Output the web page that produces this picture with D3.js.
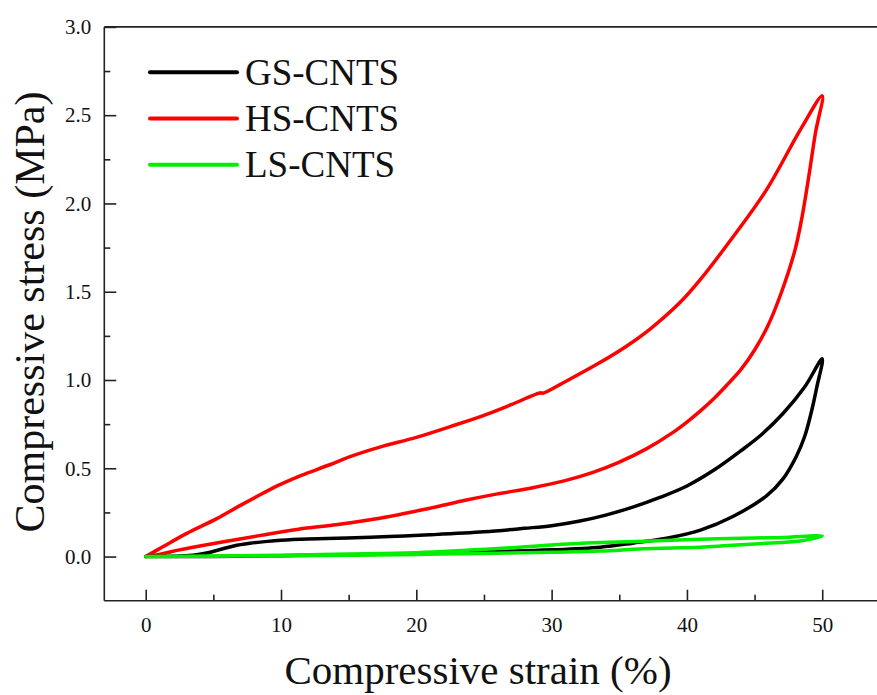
<!DOCTYPE html>
<html>
<head>
<meta charset="utf-8">
<script src="https://cdn.jsdelivr.net/npm/d3@7"></script>
<style>
  html, body { margin: 0; padding: 0; background: #fff; }
  svg { display: block; }
  svg text { font-family: "Liberation Serif", "Times New Roman", serif !important; }
</style>
</head>
<body>
<svg id="chart" width="877" height="695"></svg>
<script>
// ---------- data (strain %, stress MPa) ----------
const seriesNames = ["GS-CNTS", "HS-CNTS", "LS-CNTS"];
const seriesColors = ["#000000", "#ff0000", "#00ee00"];

// HS-CNTS loading + unloading loop
const hsStrain = [0, 1.3, 3, 5.25, 7, 8.7, 10, 11.5, 13.6, 15.1, 17.3, 20, 22.5, 25, 27, 29.2, 29.35, 31, 33.6, 35.5, 37.3, 39.5, 41, 43.4, 45.9, 48.4, 50,
                  49.5, 49, 48.5, 48, 47, 46, 45, 44, 43, 42, 41, 40, 39, 37, 35, 33, 31, 28.6, 26, 23.7, 21, 17.3, 14, 11.3, 8.5, 6.2, 4, 2.5, 1, 0];
const hsStress = [0, 0.057, 0.13, 0.215, 0.29, 0.36, 0.41, 0.46, 0.52, 0.566, 0.62, 0.675, 0.736, 0.80, 0.86, 0.928, 0.925, 0.99, 1.1, 1.19, 1.29, 1.44, 1.57, 1.81, 2.08, 2.42, 2.61,
                  2.40, 2.15, 1.92, 1.74, 1.50, 1.31, 1.17, 1.06, 0.975, 0.895, 0.825, 0.762, 0.705, 0.61, 0.535, 0.475, 0.43, 0.39, 0.355, 0.32, 0.274, 0.217, 0.18, 0.155, 0.12, 0.09, 0.06, 0.038, 0.012, 0];

// GS-CNTS loop
const gsStrain = [0, 2, 3.5, 4.5, 5.5, 6.5, 7.7, 9, 10, 12, 14.9, 18, 21, 25, 28, 30, 32, 34, 36, 38, 40, 42, 44, 45.5, 47.1, 48.7, 50,
                  49.6, 49.2, 48.7, 48.1, 47.1, 45.9, 43.4, 41, 38.5, 36, 33.6, 30, 25, 20, 15, 10, 5, 0];
const gsStress = [0, 0.002, 0.008, 0.02, 0.04, 0.06, 0.075, 0.086, 0.092, 0.099, 0.105, 0.113, 0.123, 0.14, 0.16, 0.175, 0.2, 0.235, 0.28, 0.335, 0.40, 0.49, 0.6, 0.69, 0.81, 0.96, 1.12,
                  0.96, 0.82, 0.68, 0.57, 0.44, 0.345, 0.227, 0.15, 0.104, 0.076, 0.053, 0.038, 0.027, 0.018, 0.01, 0.005, 0.001, 0];

// LS-CNTS loop
const lsStrain = [0, 5, 10, 15, 20, 26, 30, 33.6, 36.8, 41, 45, 47.1, 50,
                  48.5, 45.9, 43, 41, 36.8, 33.6, 30, 25, 20, 15, 10, 5, 0];
const lsStress = [0, 0.003, 0.008, 0.014, 0.022, 0.045, 0.066, 0.079, 0.087, 0.098, 0.105, 0.108, 0.117,
                  0.09, 0.075, 0.062, 0.053, 0.044, 0.031, 0.025, 0.018, 0.012, 0.008, 0.004, 0.002, 0];

const xTicks = [0, 10, 20, 30, 40, 50];
const xMinorTicks = [5, 15, 25, 35, 45];
const yTicks = [0, 0.5, 1.0, 1.5, 2.0, 2.5, 3.0];
const yMinorTicks = [0.25, 0.75, 1.25, 1.75, 2.25, 2.75];
const xTitle = "Compressive strain (%)";
const yTitle = "Compressive stress (MPa)";

// ---------- layout ----------
const W = 877, H = 695;
const svg = d3.select("#chart");
const axisColor = "#222";
const serif = "'Liberation Serif', 'Times New Roman', serif";

const x = d3.scaleLinear().domain([-3.06, 54.07]).range([104.3, 877.3]);
const y = d3.scaleLinear().domain([-0.25, 3.0]).range([600.7, 26.9]);

const x0 = x.range()[0], yBottom = y.range()[0], yTop = y.range()[1];

// frame lines (left, bottom, top)
const frame = svg.append("g").attr("stroke", axisColor).attr("stroke-width", 1.6).attr("fill", "none");
frame.append("line").attr("x1", x0).attr("x2", x0).attr("y1", yTop).attr("y2", yBottom);
frame.append("line").attr("x1", x0).attr("x2", W).attr("y1", yBottom).attr("y2", yBottom);
frame.append("line").attr("x1", x0).attr("x2", W).attr("y1", yTop).attr("y2", yTop);

function styleAxis(g, withText) {
  g.attr("font-family", serif);
  g.select(".domain").remove();
  g.selectAll("line").attr("stroke", axisColor).attr("stroke-width", 1.6);
  if (withText) g.selectAll("text").style("font-family", serif).attr("font-size", 21).attr("fill", "#111");
}

// y axis major + minor
svg.append("g").attr("transform", `translate(${x0},0)`)
  .call(d3.axisLeft(y).tickValues(yTicks).tickFormat(d3.format(".1f")).tickSizeInner(-12).tickSizeOuter(0).tickPadding(13))
  .call(g => styleAxis(g, true));
svg.append("g").attr("transform", `translate(${x0},0)`)
  .call(d3.axisLeft(y).tickValues(yMinorTicks).tickFormat("").tickSizeInner(-6).tickSizeOuter(0))
  .call(g => styleAxis(g, false));

// x axis major + minor
svg.append("g").attr("transform", `translate(0,${yBottom})`)
  .call(d3.axisBottom(x).tickValues(xTicks).tickFormat(d3.format("d")).tickSizeInner(-11).tickSizeOuter(0).tickPadding(16))
  .call(g => styleAxis(g, true));
svg.append("g").attr("transform", `translate(0,${yBottom})`)
  .call(d3.axisBottom(x).tickValues(xMinorTicks).tickFormat("").tickSizeInner(-6).tickSizeOuter(0))
  .call(g => styleAxis(g, false));

// axis titles
svg.append("text").attr("x", (x(0) + x(50)) / 2 - 6).attr("y", 684)
  .attr("text-anchor", "middle").attr("font-size", 41).attr("fill", "#111").text(xTitle);
svg.append("text").attr("transform", `translate(44,${312}) rotate(-90)`)
  .attr("text-anchor", "middle").attr("font-size", 42).attr("fill", "#111").text(yTitle);

// ---------- curves ----------
const line = d3.line().x(d => x(d[0])).y(d => y(d[1])).curve(d3.curveCatmullRom.alpha(0.5));
const series = [
  { name: seriesNames[1], color: seriesColors[1], pts: d3.zip(hsStrain, hsStress) },
  { name: seriesNames[0], color: seriesColors[0], pts: d3.zip(gsStrain, gsStress) },
  { name: seriesNames[2], color: seriesColors[2], pts: d3.zip(lsStrain, lsStress) }
];
svg.append("g").selectAll("path").data(series).join("path")
  .attr("d", d => line(d.pts))
  .attr("fill", "none")
  .attr("stroke", d => d.color)
  .attr("stroke-width", 3.5)
  .attr("stroke-linejoin", "round")
  .attr("stroke-linecap", "round");

// ---------- legend ----------
const legend = svg.append("g");
const legY = d3.scalePoint().domain(seriesNames).range([72.3, 164.7]);
const lg = legend.selectAll("g").data(seriesNames).join("g")
  .attr("transform", d => `translate(0,${legY(d)})`);
lg.append("line").attr("x1", 150).attr("x2", 237).attr("y1", 0).attr("y2", 0)
  .attr("stroke", (d, i) => seriesColors[i]).attr("stroke-width", 4).attr("stroke-linecap", "round");
lg.append("text").attr("x", 245).attr("y", 12.7).attr("font-size", 37).attr("fill", "#111").text(d => d);
</script>
</body>
</html>
